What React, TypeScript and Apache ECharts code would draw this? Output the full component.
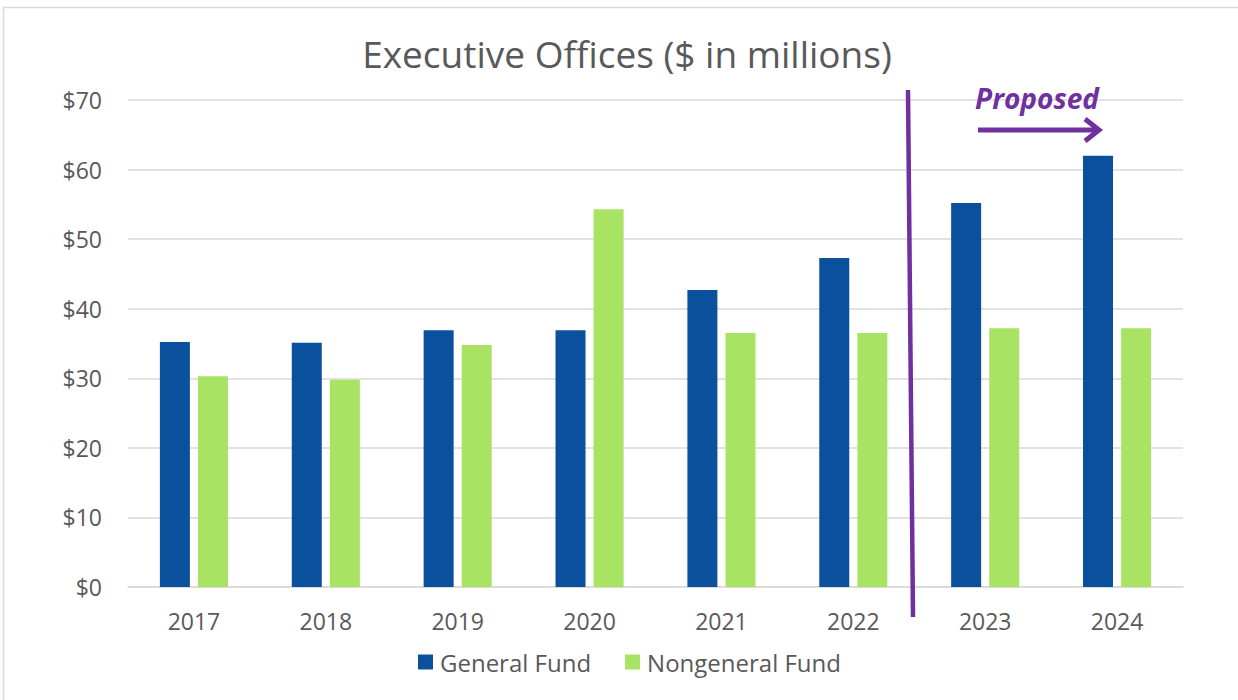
import React, { useEffect, useRef } from "react";
import * as echarts from "echarts";

const categories = ["2017", "2018", "2019", "2020", "2021", "2022", "2023", "2024"];
const generalFund = [35.2, 35.1, 36.9, 36.9, 42.7, 47.3, 55.2, 62.0];
const nongeneralFund = [30.3, 29.8, 34.8, 54.3, 36.5, 36.5, 37.2, 37.2];
const seriesNames = ["General Fund", "Nongeneral Fund"];

const FONT = "'Open Sans', 'Noto Sans', sans-serif";
const PURPLE = "#7030A0";

export default function App() {
  const ref = useRef<HTMLDivElement>(null);
  useEffect(() => {
    if (!ref.current) return;
    const chart = echarts.init(ref.current, undefined, { renderer: "svg" });
    chart.setOption({
      animation: false,
      backgroundColor: "#ffffff",
      title: {
        text: "Executive Offices ($ in millions)",
        left: 622,
        top: 30,
        textAlign: "center",
        textStyle: { fontFamily: FONT, fontSize: 37, fontWeight: "normal", color: "#595959" },
      },
      legend: {
        data: seriesNames,
        left: 413,
        top: 645,
        itemWidth: 15,
        itemHeight: 15,
        itemGap: 34,
        icon: "rect",
        textStyle: { fontFamily: FONT, fontSize: 24, color: "#595959", padding: [0, 0, 0, 2] },
      },
      grid: { left: 128, right: 55, top: 100, bottom: 113, containLabel: false },
      xAxis: {
        type: "category",
        data: categories,
        axisLine: { lineStyle: { color: "#d9d9d9", width: 1.5 } },
        axisTick: { show: false },
        axisLabel: { fontFamily: FONT, fontSize: 23, color: "#595959", margin: 22 },
      },
      yAxis: {
        type: "value",
        min: 0,
        max: 70,
        interval: 10,
        axisLine: { show: false },
        axisTick: { show: false },
        splitLine: { lineStyle: { color: "#d9d9d9", width: 1.5 } },
        axisLabel: {
          fontFamily: FONT,
          fontSize: 23,
          color: "#595959",
          margin: 26,
          formatter: (v: number) => "$" + v,
        },
      },
      series: [
        {
          name: seriesNames[0],
          type: "bar",
          data: generalFund,
          barWidth: 30,
          barGap: "27%",
          itemStyle: { color: "#0B509C" },
        },
        {
          name: seriesNames[1],
          type: "bar",
          data: nongeneralFund,
          barWidth: 30,
          itemStyle: { color: "#A9E364" },
        },
      ],
      graphic: [
        {
          type: "rect",
          shape: { x: 3.5, y: 7.5, width: 1240, height: 700 },
          style: { fill: "none", stroke: "#d9d9d9", lineWidth: 1.5 },
          silent: true,
        },
        {
          type: "line",
          shape: { x1: 908, y1: 90, x2: 913, y2: 617 },
          style: { stroke: PURPLE, lineWidth: 4.5 },
          z: 100,
        },
        {
          type: "line",
          shape: { x1: 978, y1: 130, x2: 1096, y2: 130 },
          style: { stroke: PURPLE, lineWidth: 5 },
          z: 100,
        },
        {
          type: "polyline",
          shape: { points: [[1085, 119], [1099, 130], [1085, 141]] },
          style: { stroke: PURPLE, lineWidth: 5, fill: "none", lineJoin: "miter" },
          z: 100,
        },
        {
          type: "text",
          x: 1037,
          y: 98,
          style: {
            text: "Proposed",
            fontFamily: FONT,
            fontSize: 28,
            fontWeight: "bold",
            fontStyle: "italic",
            fill: PURPLE,
            align: "center",
            verticalAlign: "middle",
          },
          z: 100,
        },
      ],
    });
    return () => chart.dispose();
  }, []);
  return (
    <div
      ref={ref}
      style={{ position: "absolute", left: 0, top: 0, width: 1238, height: 700 }}
    />
  );
}
